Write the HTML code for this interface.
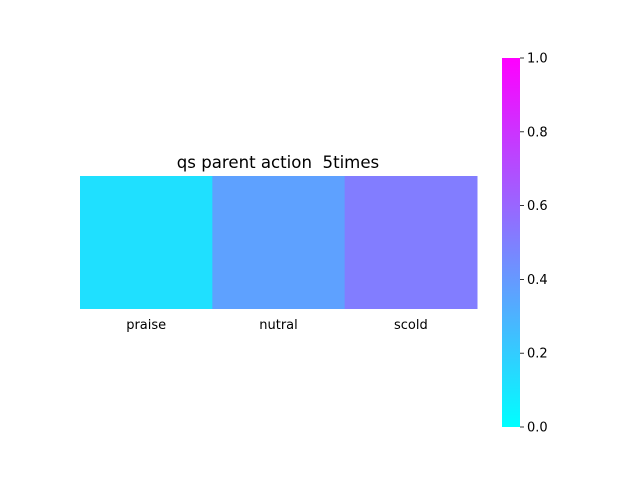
<!DOCTYPE html>
<html><head><meta charset="utf-8">
<style>
body{margin:0;background:#fff;}
svg{display:block;font-family:"DejaVu Sans","Liberation Sans",sans-serif;}
</style></head>
<body>
<svg id="chart" width="640" height="480" viewBox="0 0 640 480">
  <defs>
    <linearGradient id="cool" x1="0" y1="1" x2="0" y2="0">
      <stop offset="0" stop-color="rgb(0,255,255)"/>
      <stop offset="1" stop-color="rgb(255,0,255)"/>
    </linearGradient>
  </defs>
  <text x="278" y="168" text-anchor="middle" font-size="16.6" fill="#000" style="white-space:pre">qs parent action  5times</text>
  <g id="cells"></g>
  <g id="xlabels"></g>
  <rect x="502" y="58" width="18" height="369" fill="url(#cool)"/>
  <g id="cbticks"></g>
</svg>
<script>
const categories = ["praise", "nutral", "scold"];
const values = [0.12, 0.37, 0.51];
const cbTicks = [0.0, 0.2, 0.4, 0.6, 0.8, 1.0];

const NS = "http://www.w3.org/2000/svg";
const x0 = 80, x1 = 477, y0 = 176, y1 = 309;
const cw = (x1 - x0) / categories.length;
function xScale(i){ return x0 + i * cw; }
function color(v){ v = Math.max(0, Math.min(1, v)); return `rgb(${Math.round(255*v)},${Math.round(255*(1-v))},255)`; }
const cbTop = 58, cbBot = 427;
function cbY(v){ return cbBot - v * (cbBot - cbTop); }

const cells = document.getElementById("cells");
const xl = document.getElementById("xlabels");
categories.forEach((c, i) => {
  const r = document.createElementNS(NS, "rect");
  r.setAttribute("x", xScale(i)); r.setAttribute("y", y0);
  r.setAttribute("width", cw + 0.5); r.setAttribute("height", y1 - y0);
  r.setAttribute("fill", color(values[i]));
  
  
  cells.appendChild(r);
  const t = document.createElementNS(NS, "text");
  t.setAttribute("x", xScale(i) + cw / 2); t.setAttribute("y", 329);
  t.setAttribute("text-anchor", "middle"); t.setAttribute("font-size", "13");
  t.textContent = c;
  
  
  xl.appendChild(t);
});
const cb = document.getElementById("cbticks");
cbTicks.forEach(v => {
  const y = cbY(v);
  const l = document.createElementNS(NS, "line");
  l.setAttribute("x1", 520); l.setAttribute("x2", 524);
  l.setAttribute("y1", y); l.setAttribute("y2", y);
  l.setAttribute("stroke", "#000"); l.setAttribute("stroke-width", "0.8");
  
  
  cb.appendChild(l);
  const t = document.createElementNS(NS, "text");
  t.setAttribute("x", 527); t.setAttribute("y", y + 4.5);
  t.setAttribute("font-size", "13");
  t.textContent = v.toFixed(1);
  
  
  cb.appendChild(t);
});
</script>
</body></html>
